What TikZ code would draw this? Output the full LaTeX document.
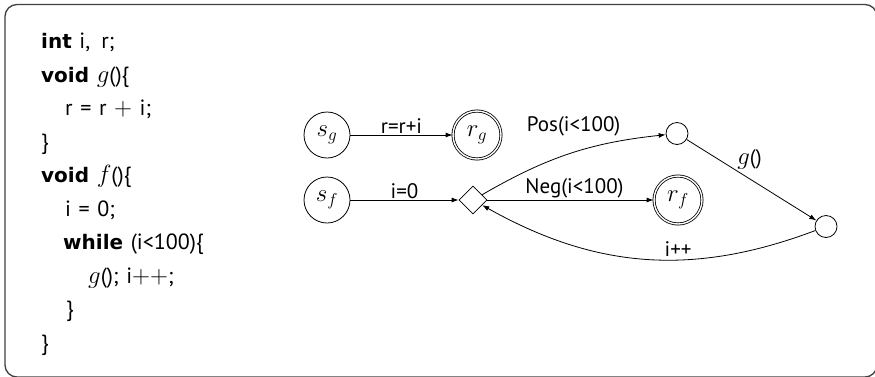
\documentclass[tikz,border=0pt]{standalone}
\usepackage{fontspec}
\setmainfont[WordSpace=1.3]{PT Sans}
\newfontfamily\kwfont{DejaVu Sans}
\usetikzlibrary{arrows.meta,shapes.geometric}
% keywords and math of the program text
\newcommand{\kwd}[1]{{\fontsize{20}{24}\kwfont\bfseries #1}}
\newcommand{\mth}[1]{{\fontsize{24}{28}\selectfont$#1$}}
\begin{document}
\begin{tikzpicture}[x=1pt,y=-1pt,
  codeline/.style={anchor=base west,inner sep=0pt,font=\fontsize{22}{26}\selectfont},
  state/.style={circle,draw,line width=0.8pt,minimum size=46pt,inner sep=0pt,font=\fontsize{24}{28}\selectfont},
  accept/.style={state,double,double distance=1.4pt,minimum size=48pt},
  dot/.style={circle,draw,line width=0.8pt,minimum size=22pt,inner sep=0pt},
  branch/.style={diamond,draw,line width=0.8pt,minimum size=28pt,inner sep=0pt},
  edge/.style={-{Latex[length=7pt,width=5pt]},line width=0.8pt},
  lbl/.style={font=\fontsize{21}{24}\selectfont,inner sep=2pt}]
\useasboundingbox (0,0) rectangle (875,376);
% frame around program and automaton
\draw[rounded corners=12pt,line width=1.3pt,black!75] (5,4.5) rectangle (877,377);

% program text
\node[codeline] (c1)  at (41,48)  {\kwd{int} i,\enspace r;};
\node[codeline] (c2)  at (41,82)  {\kwd{void} \mth{g}()\{};
\node[codeline] (c3)  at (65,115) {r = r \mth{+} i;};
\node[codeline] (c4)  at (41,149) {\}};
\node[codeline] (c5)  at (41,182) {\kwd{void} \mth{f}()\{};
\node[codeline] (c6)  at (65,216) {i = 0;};
\node[codeline] (c7)  at (63,249) {\kwd{while} (i<100)\{};
\node[codeline] (c8)  at (88,283) {\mth{g}(); i\mth{++};};
\node[codeline] (c9)  at (66,316) {\}};
\node[codeline] (c10) at (41,350) {\}};

% control flow automata
\node[state]  (sg) at (327,135) {$s_g$};
\node[accept] (rg) at (477,135) {$r_g$};
\node[state]  (sf) at (327,200) {$s_f$};
\node[branch] (d)  at (473,200) {};
\node[accept] (rf) at (678,200) {$r_f$};
\node[dot]    (p)  at (677,133.5) {};
\node[dot]    (q)  at (826,226.5) {};

\draw[edge] (sg) -- node[lbl,above,inner sep=1pt] {r=r+i} (rg);
\draw[edge] (sf) -- node[lbl,above,inner sep=1pt] {i=0} (d);
\draw[edge] (d) to[bend left=12] node[lbl,above=14pt,pos=0.52] {Pos(i<100)} (p);
\draw[edge] (d) -- node[lbl,above,inner sep=1pt,xshift=4pt] {Neg(i<100)} (rf);
\draw[edge] (p) -- node[lbl,above right,pos=0.38,inner sep=1pt] {\mth{g}()} (q);
\draw[edge] (q) to[bend left=25] node[lbl,above,inner sep=3pt,pos=0.40] {i++} (d);
\end{tikzpicture}
\end{document}
